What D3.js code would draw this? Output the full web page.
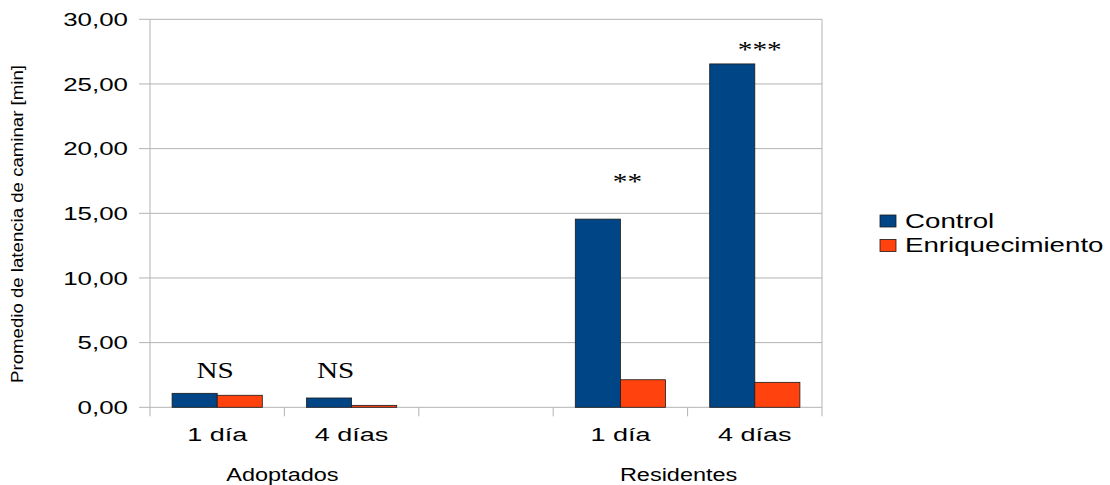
<!DOCTYPE html>
<html><head><meta charset="utf-8">
<script src="https://cdn.jsdelivr.net/npm/d3@7"></script>
<style>body{margin:0;background:#fff}svg{display:block}</style>
</head><body><svg id="c" width="1110" height="485"></svg>
<script>
const slots = ["a1","a4","gap","r1","r4"];
const slotLabels = ["1 día","4 días","","1 día","4 días"];
const groups = ["Adoptados","Residentes"];
const groupSlots = [["a1","a4"],["r1","r4"]];
const groupDx = [-2, -9];
const seriesNames = ["Control","Enriquecimiento"];
const controlValues = [1.08, 0.72, null, 14.55, 26.55];
const enrichValues = [0.93, 0.15, null, 2.13, 1.93];
const yTicks = [0,5,10,15,20,25,30];
const yTickLabels = ["0,00","5,00","10,00","15,00","20,00","25,00","30,00"];
const annotations = ["NS","NS","","**","***"];
const annotationY = [2.27, 2.27, null, 16.9, 27.06];
const annotationDx = [-2, -16, 0, 7, 5];
const colors = ["#004586","#ff420e"];

const svg = d3.select("#c");
const L=150, R=822, T=19.3, B=407.3;
const x = d3.scaleBand().domain(slots).range([L,R]).paddingInner(0).paddingOuter(0);
const x1 = d3.scaleBand().domain(seriesNames).range([0,x.bandwidth()]).paddingInner(0).paddingOuter(0.49);
const y = d3.scaleLinear().domain([0,30]).range([B,T]);
const grid = "#b3b3b3";

// gridlines + y ticks
svg.append("g").selectAll("line").data(yTicks).join("line")
  .attr("x1",L-11).attr("x2",R).attr("y1",d=>y(d)).attr("y2",d=>y(d))
  .attr("stroke",grid).attr("stroke-width",1);
// left and right frame
svg.append("line").attr("x1",L).attr("x2",L).attr("y1",T).attr("y2",B+9).attr("stroke",grid);
svg.append("line").attr("x1",R).attr("x2",R).attr("y1",T).attr("y2",B+9).attr("stroke",grid);
// x ticks at slot boundaries
svg.append("g").selectAll("line").data(slots.slice(1)).join("line")
  .attr("x1",d=>x(d)).attr("x2",d=>x(d)).attr("y1",B).attr("y2",B+9).attr("stroke",grid);

// y tick labels
svg.append("g").selectAll("text").data(yTicks).join("text")
  .attr("transform",d=>`translate(128,${y(d)}) scale(1.4,1)`)
  .attr("text-anchor","end").attr("dy","0.36em")
  .attr("font-family","Liberation Sans, Arial, sans-serif").attr("font-size",18.5).attr("fill","#000")
  .text((d,i)=>yTickLabels[i]);

// bars
const seriesData = [controlValues, enrichValues];
seriesNames.forEach((s,si)=>{
  svg.append("g").selectAll("rect").data(slots.map((k,i)=>({k,v:seriesData[si][i]})).filter(d=>d.v!=null)).join("rect")
    .attr("x",d=>x(d.k)+x1(s)).attr("width",x1.bandwidth())
    .attr("y",d=>y(d.v)).attr("height",d=>y(0)-y(d.v))
    .attr("fill",colors[si]).attr("stroke","#1a1a1a").attr("stroke-width",0.8);
});

// annotations
svg.append("g").selectAll("text").data(slots.map((k,i)=>({k,t:annotations[i],v:annotationY[i],dx:annotationDx[i]})).filter(d=>d.t)).join("text")
  .attr("transform",d=>`translate(${x(d.k)+x.bandwidth()/2+d.dx},${y(d.v)}) scale(1.3,1)`)
  .attr("text-anchor","middle")
  .attr("font-family","Liberation Serif, Times New Roman, serif").attr("font-size",22.5).attr("fill","#000")
  .text(d=>d.t);

// category labels
svg.append("g").selectAll("text").data(slots.map((k,i)=>({k,t:slotLabels[i]})).filter(d=>d.t)).join("text")
  .attr("transform",d=>`translate(${x(d.k)+x.bandwidth()/2},441) scale(1.46,1)`)
  .attr("text-anchor","middle")
  .attr("font-family","Liberation Sans, Arial, sans-serif").attr("font-size",18.5).attr("fill","#000")
  .text(d=>d.t);

// group labels
svg.append("g").selectAll("text").data(groups).join("text")
  .attr("transform",(d,i)=>{const a=x(groupSlots[i][0]), b=x(groupSlots[i][1])+x.bandwidth(); return `translate(${(a+b)/2+groupDx[i]},481) scale(1.27,1)`;})
  .attr("text-anchor","middle")
  .attr("font-family","Liberation Sans, Arial, sans-serif").attr("font-size",18.5).attr("fill","#000")
  .text(d=>d);

// y axis title
svg.append("text")
  .attr("transform","translate(23,224) rotate(-90)")
  .attr("text-anchor","middle")
  .attr("font-family","Liberation Sans, Arial, sans-serif").attr("font-size",16)
  .attr("textLength",318).attr("lengthAdjust","spacingAndGlyphs")
  .text("Promedio de latencia de caminar [min]");

// legend
const lg = svg.append("g").selectAll("g").data(seriesNames).join("g")
  .attr("transform",(d,i)=>`translate(880,${215+i*24.5})`);
lg.append("rect").attr("width",16).attr("height",12).attr("fill",(d,i)=>colors[i]).attr("stroke","#1a1a1a").attr("stroke-width",0.8);
lg.append("text").attr("transform","translate(25,12.5) scale(1.42,1)")
  .attr("font-family","Liberation Sans, Arial, sans-serif").attr("font-size",19.5).attr("fill","#000")
  .text(d=>d);
</script></body></html>
